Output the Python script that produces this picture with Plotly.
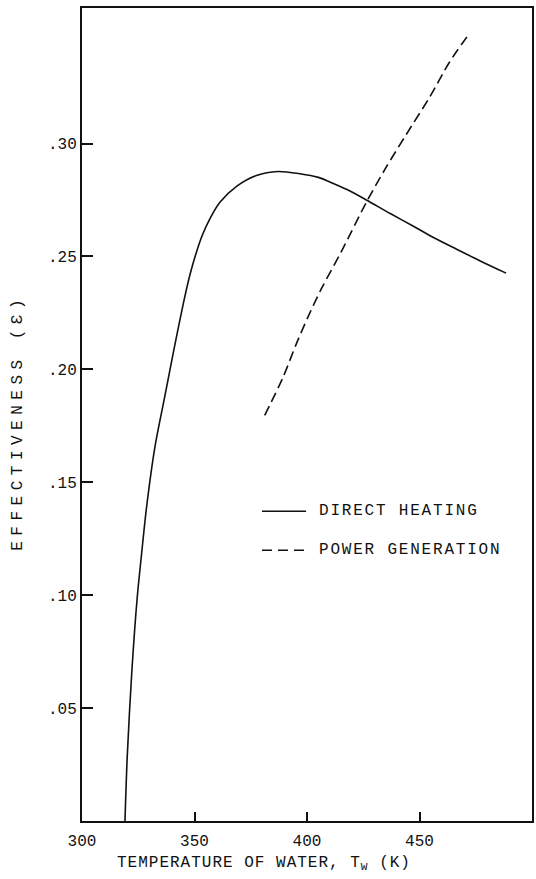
import plotly.graph_objects as go

# Data
direct_T = [319.1, 320.1, 322.1, 324.5, 326.5, 328.7, 332.4, 336.8, 341.0, 345.0, 348.0, 350.9,
            353.5, 357.0, 361.3, 368.7, 377.5, 387.1, 396.8, 405.0, 410.1, 418.0, 426.4,
            437.0, 447.1, 456.0, 466.3, 477.0, 488.5]
direct_E = [0.000, 0.0285, 0.0654, 0.0985, 0.1185, 0.139, 0.1656, 0.1880, 0.2095, 0.2290, 0.2420, 0.2520,
            0.2595, 0.2670, 0.2740, 0.2810, 0.2858, 0.2876, 0.2866, 0.2850, 0.2830, 0.2795, 0.2750,
            0.2690, 0.2635, 0.2585, 0.2533, 0.2480, 0.2426]

power_T = [381.2, 389.4, 395.3, 400.4, 406.4, 415.2, 426.4, 435.2, 444.1, 454.5, 463.3, 471.5]
power_E = [0.1796, 0.1966, 0.2114, 0.2231, 0.2357, 0.2520, 0.2740, 0.2895, 0.3040, 0.3205, 0.3360, 0.3478]

x_ticks = [300, 350, 400, 450]
x_tick_text = ["300", "350", "400", "450"]
y_ticks = [0.05, 0.10, 0.15, 0.20, 0.25, 0.30]
y_tick_text = [".05", ".10", ".15", ".20", ".25", ".30"]

legend_names = ["DIRECT HEATING", "POWER GENERATION"]

FONT = "Liberation Mono, Courier New, monospace"
INK = "#111111"


def spaced(txt, px):
    return '<span style="letter-spacing:%spx">%s</span>' % (px, txt)


fig = go.Figure()
fig.add_trace(go.Scatter(x=direct_T, y=direct_E, mode="lines", name=legend_names[0],
                         line=dict(color=INK, width=1.6, shape="spline", smoothing=0.8),
                         showlegend=False))
fig.add_trace(go.Scatter(x=power_T, y=power_E, mode="lines", name=legend_names[1],
                         line=dict(color=INK, width=1.6, dash="10px,5px", shape="spline", smoothing=0.8),
                         showlegend=False))

# custom legend (line samples + labels)
leg_x0, leg_x1, leg_tx = 0.400, 0.498, 0.522
leg_y = [0.381, 0.333]
fig.add_shape(type="line", xref="paper", yref="paper", x0=leg_x0, x1=leg_x1, y0=leg_y[0], y1=leg_y[0],
              line=dict(color=INK, width=1.6))
fig.add_shape(type="line", xref="paper", yref="paper", x0=leg_x0, x1=leg_x1, y0=leg_y[1], y1=leg_y[1],
              line=dict(color=INK, width=1.6, dash="10px,6px"))
for name, yy in zip(legend_names, leg_y):
    fig.add_annotation(text=spaced(name, 1.8), xref="paper", yref="paper", x=leg_tx, y=yy,
                       xanchor="left", yanchor="middle", showarrow=False,
                       font=dict(family=FONT, size=16, color=INK))

# axis titles
fig.add_annotation(text=spaced("TEMPERATURE OF WATER, T<sub>W</sub> (K)", 1.0),
                   xref="paper", yref="paper",
                   x=0.405, y=-0.052, xanchor="center", yanchor="middle", showarrow=False,
                   font=dict(family=FONT, size=16, color=INK))
fig.add_annotation(text=spaced("EFFECTIVENESS (\u0190)", 5.5), xref="paper", yref="paper",
                   x=-0.142, y=0.49, xanchor="center", yanchor="middle", textangle=-90,
                   showarrow=False, font=dict(family=FONT, size=16, color=INK))

fig.update_xaxes(range=[300, 500], tickvals=x_ticks, ticktext=x_tick_text,
                 ticks="inside", ticklen=9, tickwidth=2, tickcolor=INK,
                 showline=True, linewidth=2, linecolor=INK, mirror=True,
                 showgrid=False, zeroline=False, ticklabelstandoff=4,
                 tickfont=dict(family=FONT, size=16, color=INK))
fig.update_yaxes(range=[0, 0.36], tickvals=y_ticks, ticktext=y_tick_text,
                 ticks="inside", ticklen=11, tickwidth=2, tickcolor=INK,
                 showline=True, linewidth=2, linecolor=INK, mirror=True,
                 showgrid=False, zeroline=False, ticklabelstandoff=0,
                 tickfont=dict(family=FONT, size=16, color=INK))

fig.update_layout(width=536, height=879, plot_bgcolor="white", paper_bgcolor="white",
                  margin=dict(l=82, r=2, t=8, b=58), showlegend=False)

fig.write_html("out.html", config={"displayModeBar": False},
               post_script="document.body.style.margin='0';document.body.style.overflow='hidden';")
